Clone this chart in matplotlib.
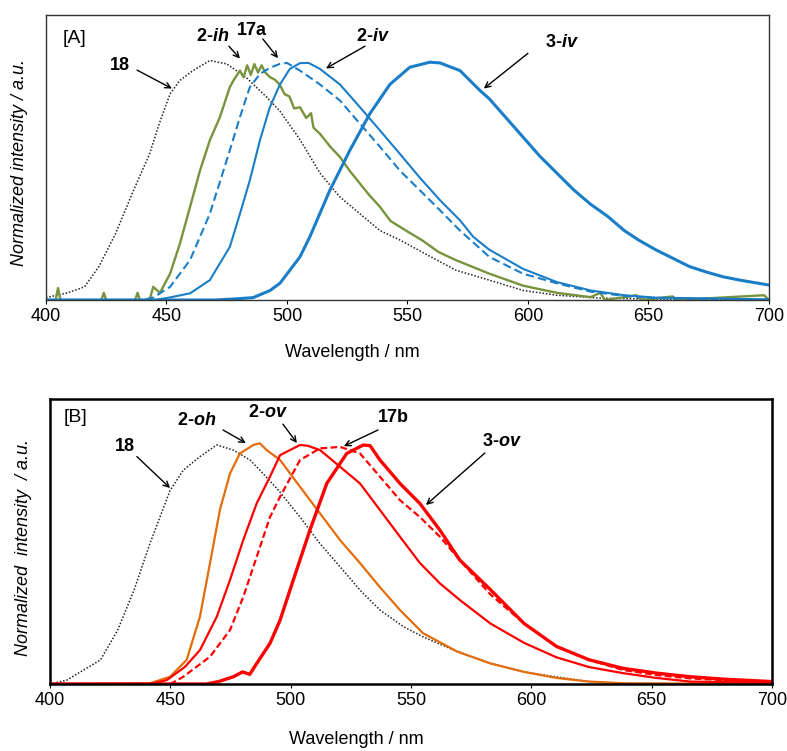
import matplotlib
matplotlib.use("Agg")
import matplotlib.pyplot as plt

plt.rcParams['font.family'] = ['Liberation Sans', 'DejaVu Sans']
plt.rcParams['mathtext.fontset'] = 'custom'
plt.rcParams['mathtext.rm'] = 'Liberation Sans:bold'
plt.rcParams['mathtext.it'] = 'Liberation Sans:italic:bold'
plt.rcParams['mathtext.bf'] = 'Liberation Sans:bold'
plt.rcParams['mathtext.bfit'] = 'Liberation Sans:italic:bold'

# ---------------- Panel A data ----------------
a18_wl = [400, 409, 416, 422, 429, 436, 443, 447, 451.5, 455.6, 461, 468, 475, 483, 491.6, 497, 505.4, 513.7, 522, 530.3, 538.6, 547, 557, 570, 584, 598, 612, 630, 650, 700]
a18_I  = [0.01, 0.03, 0.055, 0.14, 0.28, 0.45, 0.61, 0.736, 0.861, 0.917, 0.958, 1.0, 0.986, 0.93, 0.847, 0.79, 0.67, 0.53, 0.43, 0.36, 0.29, 0.25, 0.195, 0.125, 0.083, 0.04, 0.02, 0.008, 0.004, 0.0]

a2ih_wl = [400, 404, 405, 406, 423, 424, 425, 437, 438, 439, 443, 444.5, 447.3, 451.5, 455.6, 459.8, 463.9, 468, 472.2, 476.3, 478, 480.5, 482, 483.5, 485, 486.5, 488, 489.5, 491, 493, 495, 497, 499, 501, 503, 505.4, 508, 510, 511, 513.7, 518, 522, 526, 530.3, 534, 538.6, 543, 547, 551, 556, 563, 570, 584, 598, 612, 626, 630, 632, 645, 647, 660, 662, 680, 698, 700]
a2ih_I  = [0.0, 0.0, 0.05, 0.0, 0.0, 0.03, 0.0, 0.0, 0.03, 0.0, 0.0, 0.055, 0.03, 0.11, 0.236, 0.389, 0.54, 0.667, 0.764, 0.889, 0.92, 0.958, 0.93, 0.98, 0.94, 0.985, 0.95, 0.98, 0.95, 0.93, 0.92, 0.90, 0.86, 0.85, 0.80, 0.805, 0.76, 0.78, 0.72, 0.694, 0.64, 0.597, 0.54, 0.486, 0.44, 0.389, 0.33, 0.305, 0.28, 0.25, 0.20, 0.167, 0.11, 0.06, 0.03, 0.012, 0.03, 0.0, 0.02, 0.0, 0.015, 0.0, 0.01, 0.02, 0.0]

a17a_wl = [400, 440, 444.5, 451.5, 459.8, 468, 476.3, 480.5, 484.6, 488.8, 493, 497.1, 500, 505.4, 513.7, 522, 530.3, 538.6, 546.9, 555.2, 563.5, 571.8, 584, 598, 612, 626, 640, 653, 700]
a17a_I  = [0.0, 0.0, 0.01, 0.055, 0.167, 0.36, 0.625, 0.764, 0.889, 0.944, 0.97, 0.986, 0.99, 0.958, 0.90, 0.833, 0.736, 0.64, 0.54, 0.458, 0.375, 0.29, 0.18, 0.11, 0.07, 0.035, 0.017, 0.008, 0.0]

a2iv_wl = [400, 445, 451, 459.8, 468, 476.3, 480.5, 484.6, 488.8, 492.9, 497.1, 501.2, 505.4, 509, 513.7, 522, 530.3, 538.6, 546.9, 555.2, 563.5, 571.8, 577.3, 584, 598, 612, 626, 640, 653, 700]
a2iv_I  = [0.0, 0.0, 0.01, 0.028, 0.083, 0.222, 0.36, 0.50, 0.667, 0.805, 0.90, 0.965, 0.989, 0.99, 0.965, 0.90, 0.805, 0.708, 0.61, 0.51, 0.417, 0.333, 0.264, 0.21, 0.13, 0.075, 0.04, 0.02, 0.01, 0.003]

a3iv_wl = [400, 470, 479, 486, 493, 497.1, 505.4, 509.5, 517.8, 526.1, 534.4, 542.7, 551, 559.3, 563.5, 571.8, 580.1, 584, 591, 598, 605, 612, 619, 626, 633, 640, 646, 653, 660, 667, 674, 681, 688, 700]
a3iv_I  = [0.0, 0.0, 0.005, 0.01, 0.04, 0.07, 0.18, 0.264, 0.458, 0.625, 0.778, 0.90, 0.972, 0.993, 0.99, 0.958, 0.875, 0.84, 0.76, 0.68, 0.60, 0.53, 0.46, 0.40, 0.35, 0.29, 0.25, 0.21, 0.175, 0.14, 0.117, 0.097, 0.083, 0.0625]

# ---------------- Panel B data ----------------
b18_wl = [400, 407, 421, 428, 435, 441.5, 449.9, 455.4, 462.3, 469.3, 476.2, 483.1, 487.2, 495, 503.9, 512.2, 520.5, 528.8, 537.1, 546.8, 555, 569, 583, 597, 610, 624, 640, 700]
b18_I  = [0.0, 0.016, 0.10, 0.22, 0.39, 0.58, 0.80, 0.884, 0.94, 0.988, 0.967, 0.926, 0.884, 0.80, 0.69, 0.58, 0.485, 0.388, 0.306, 0.237, 0.195, 0.135, 0.085, 0.05, 0.03, 0.01, 0.003, 0.0]

b2oh_wl = [400, 441.5, 449.9, 456.8, 462.3, 466.5, 470.6, 474.8, 478.9, 484.5, 487.2, 490, 495.6, 503.9, 512.2, 520.5, 528.8, 537.1, 545.4, 552.3, 555, 569, 583, 597, 610.5, 624, 638, 700]
b2oh_I  = [0.0, 0.003, 0.03, 0.10, 0.278, 0.50, 0.72, 0.87, 0.953, 0.988, 0.995, 0.967, 0.926, 0.815, 0.705, 0.595, 0.50, 0.40, 0.306, 0.237, 0.21, 0.135, 0.085, 0.05, 0.025, 0.01, 0.003, 0.0]

b2ov_wl = [400, 441.5, 448.5, 456, 462.3, 469.3, 474.8, 480.3, 485.9, 491.4, 495.6, 503.9, 507, 512.2, 520.5, 528.8, 537.1, 545.4, 553.7, 562, 570.3, 583, 597, 610.5, 624, 638, 652, 666, 700]
b2ov_I  = [0.0, 0.0, 0.016, 0.07, 0.14, 0.278, 0.43, 0.595, 0.747, 0.857, 0.946, 0.988, 0.985, 0.967, 0.898, 0.829, 0.719, 0.609, 0.50, 0.416, 0.347, 0.25, 0.17, 0.11, 0.07, 0.045, 0.025, 0.01, 0.005]

b17b_wl = [400, 450, 455.4, 466.5, 474.8, 480.3, 485.9, 491.4, 495.6, 503.9, 512.2, 520.5, 528.8, 537.1, 545.4, 553.7, 562, 570.3, 583, 597, 610.5, 624, 638, 652, 666, 680, 700]
b17b_I  = [0.0, 0.0, 0.03, 0.113, 0.223, 0.36, 0.526, 0.69, 0.774, 0.926, 0.974, 0.98, 0.953, 0.857, 0.76, 0.69, 0.609, 0.512, 0.37, 0.25, 0.155, 0.10, 0.058, 0.037, 0.023, 0.016, 0.01]

b3ov_wl = [400, 465, 470, 476.2, 480, 483, 485.9, 491.4, 495.6, 501.1, 508, 515, 523.3, 530.2, 533, 537.1, 545.4, 553.7, 562, 570.3, 583, 597, 610.5, 624, 638, 652, 666, 680, 700]
b3ov_I  = [0.0, 0.0, 0.01, 0.03, 0.05, 0.04, 0.085, 0.168, 0.264, 0.43, 0.636, 0.829, 0.953, 0.988, 0.985, 0.926, 0.829, 0.746, 0.636, 0.512, 0.39, 0.25, 0.155, 0.10, 0.065, 0.045, 0.03, 0.02, 0.01]

x_ticks = [400, 450, 500, 550, 600, 650, 700]

BLUE = '#1a7dc8'
GREEN = '#77933c'
ORANGE = '#e46c0a'
RED = '#ff0000'

fig = plt.figure(figsize=(7.87, 7.51), dpi=100)
axA = fig.add_axes([0.0584, 0.6005, 0.9186, 0.3795])
axB = fig.add_axes([0.0635, 0.0892, 0.9175, 0.3795])

# Panel A
axA.plot(a18_wl, a18_I, color='#222222', lw=1.1, ls=(0, (1, 1.2)))
axA.plot(a2ih_wl, a2ih_I, color=GREEN, lw=1.7)
axA.plot(a17a_wl, a17a_I, color=BLUE, lw=1.5, ls=(0, (4, 2)))
axA.plot(a2iv_wl, a2iv_I, color=BLUE, lw=1.5)
axA.plot(a3iv_wl, a3iv_I, color=BLUE, lw=2.2)
axA.set_ylim(0, 1.19)

# Panel B
axB.plot(b18_wl, b18_I, color='#222222', lw=1.1, ls=(0, (1, 1.2)))
axB.plot(b2oh_wl, b2oh_I, color=ORANGE, lw=1.6)
axB.plot(b2ov_wl, b2ov_I, color=RED, lw=1.6)
axB.plot(b17b_wl, b17b_I, color=RED, lw=1.6, ls=(0, (3, 1.5)))
axB.plot(b3ov_wl, b3ov_I, color=RED, lw=2.4)
axB.set_ylim(0, 1.178)

for ax, lw, col in [(axA, 1.0, '#333333'), (axB, 1.8, '#000000')]:
    ax.set_xlim(400, 700)
    ax.set_xticks(x_ticks)
    ax.set_yticks([])
    ax.tick_params(axis='x', direction='out', length=3, width=0.8, labelsize=13, pad=3)
    for s in ax.spines.values():
        s.set_linewidth(lw)
        s.set_color(col)

fig.text(352/787, 1 - 353/751, 'Wavelength / nm', ha='center', va='center', fontsize=13)
fig.text(356/787, 1 - 740/751, 'Wavelength / nm', ha='center', va='center', fontsize=13)
fig.text(20/787, 1 - 162/751, 'Normalized intensity / a.u.', ha='center', va='center',
         rotation=90, fontsize=13, style='italic')
fig.text(24/787, 1 - 547/751, 'Normalized  intensity  / a.u.', ha='center', va='center',
         rotation=90, fontsize=13, style='italic')

axA.text(412, 1.09, '[A]', ha='center', va='center', fontsize=14)
axB.text(410.4, 1.10, '[B]', ha='center', va='center', fontsize=14)

arrow = dict(arrowstyle='->', color='black', lw=1.0, shrinkA=0, shrinkB=0)

def ann(ax, label, txy, tail, head):
    ax.text(txy[0], txy[1], label, ha='center', va='center', fontsize=13, fontweight='bold')
    ax.annotate('', xy=head, xytext=tail, arrowprops=arrow)

ann(axA, '18', (430.7, 0.98), (437.8, 0.96), (452.3, 0.883))
ann(axA, r'2-$\mathbfit{ih}$', (469.3, 1.10), (475.9, 1.06), (480.5, 1.008))
ann(axA, '17a', (485.5, 1.125), (490, 1.09), (496.3, 1.01))
ann(axA, r'2-$\mathbfit{iv}$', (535.7, 1.10), (532.4, 1.06), (516.2, 0.967))
ann(axA, r'3-$\mathbfit{iv}$', (614.1, 1.075), (600, 1.03), (581.7, 0.883))

ann(axB, '18', (431.2, 0.98), (436.1, 0.94), (449.9, 0.81))
ann(axB, r'2-$\mathbfit{oh}$', (461.1, 1.09), (471.9, 1.05), (481.4, 0.996))
ann(axB, r'2-$\mathbfit{ov}$', (490.6, 1.124), (496.8, 1.074), (502.6, 0.996))
ann(axB, '17b', (542.5, 1.10), (536.3, 1.05), (522.1, 0.983))
ann(axB, r'3-$\mathbfit{ov}$', (587.8, 1.004), (580.7, 0.955), (556.2, 0.74))

fig.savefig('out.png', dpi=100)
